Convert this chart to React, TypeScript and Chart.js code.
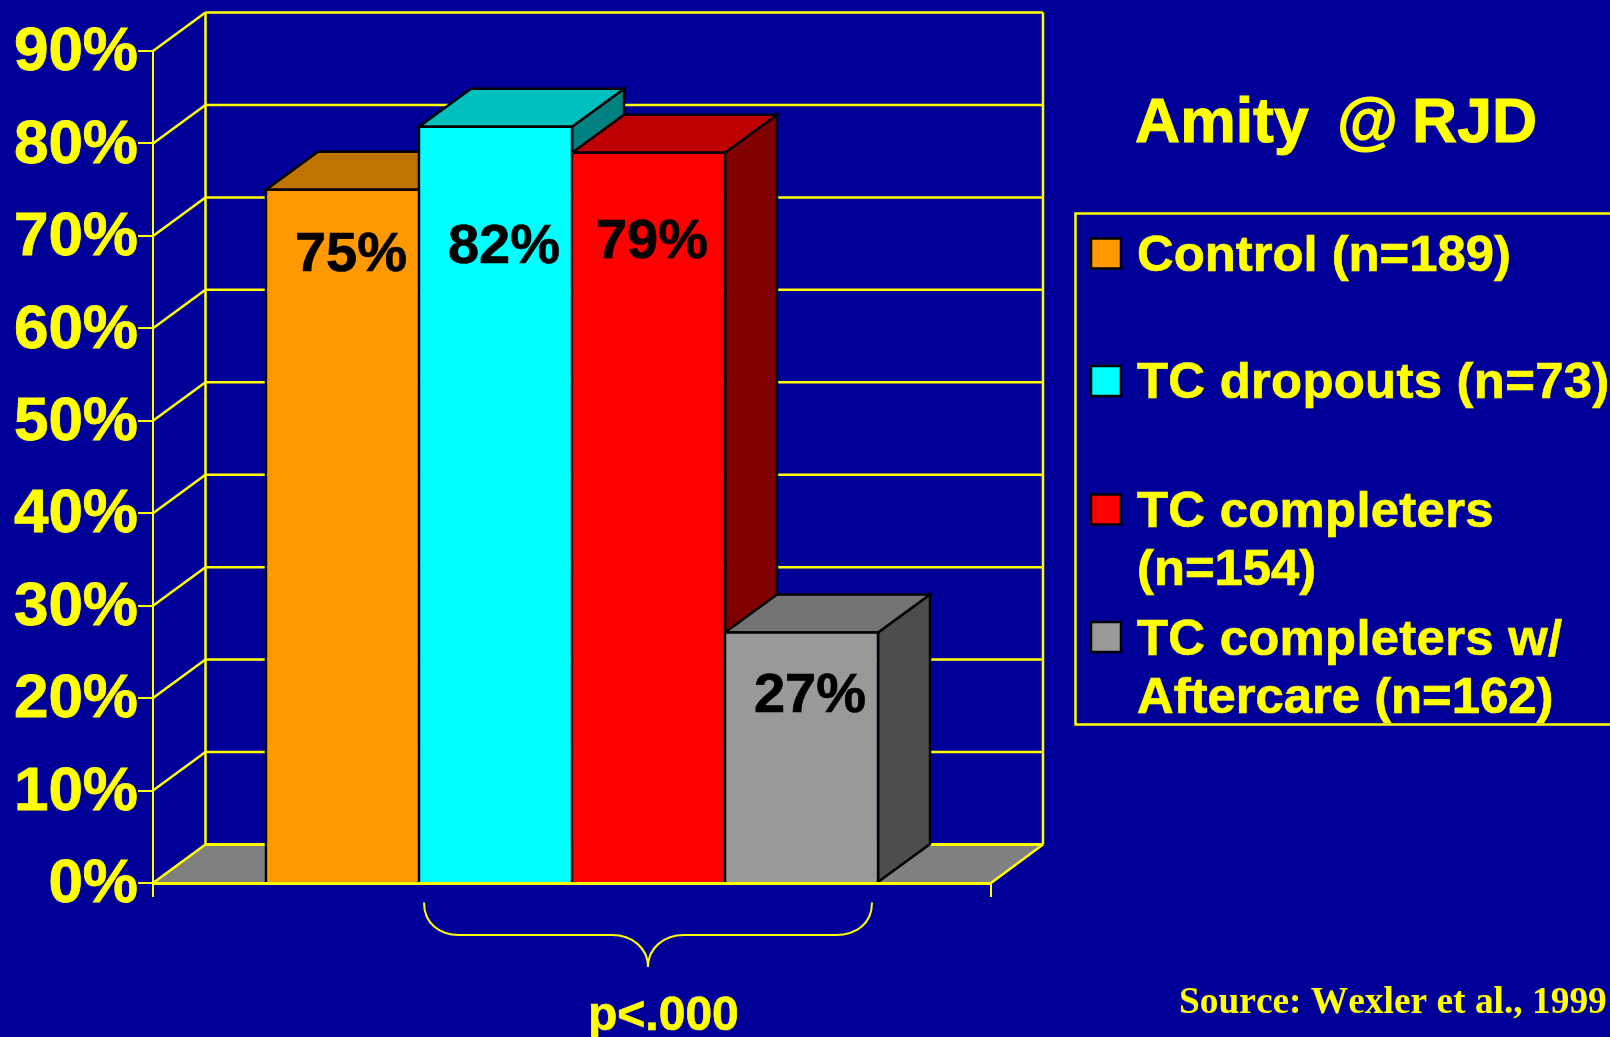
import React, { useEffect, useRef } from "react";
import { Chart, registerables } from "chart.js";

Chart.register(...registerables);

const categories = ["Amity @ RJD"];
const seriesNames = ["Control (n=189)", "TC dropouts (n=73)", "TC completers (n=154)", "TC completers w/ Aftercare (n=162)"];
const seriesValues = [75, 81.8, 79, 27.1];
const tickStep = 10;
const axisMax = 90;

const frontColors = ["#FF9900", "#00FFFF", "#FF0000", "#999999"];
const topColors = ["#BF7300", "#00BFBF", "#BF0000", "#737373"];
const sideColors = ["#804D00", "#008080", "#800000", "#4D4D4D"];

const legendLines = [["Control (n=189)"], ["TC dropouts (n=73)"], ["TC completers", "(n=154)"], ["TC completers w/", "Aftercare (n=162)"]];
const legendSwatchY = [238.5, 366, 494.5, 622];
const legendBaselineY = [271, 398, 527, 655];
const labelOffsets = [[8.5, 61], [8.5, 116], [3.5, 85], [8.5, 60]];

const BG = "#000099";
const YEL = "#FFFF00";
const SANS = '"Liberation Sans", Arial, sans-serif';
const DEPTH_X = 52.5;
const DEPTH_Y = 38.5;
const BAR_DX = 52;
const BAR_DY = 38;

const poly = (ctx: CanvasRenderingContext2D, pts: number[][]) => {
  ctx.beginPath();
  pts.forEach((p, i) => (i ? ctx.lineTo(p[0], p[1]) : ctx.moveTo(p[0], p[1])));
  ctx.closePath();
};
const seg = (ctx: CanvasRenderingContext2D, x1: number, y1: number, x2: number, y2: number) => {
  ctx.beginPath();
  ctx.moveTo(x1, y1);
  ctx.lineTo(x2, y2);
  ctx.stroke();
};
const heavyText = (ctx: CanvasRenderingContext2D, t: string, x: number, y: number, w = 0.7) => {
  ctx.lineWidth = w;
  ctx.strokeStyle = ctx.fillStyle as string;
  ctx.strokeText(t, x, y);
  ctx.fillText(t, x, y);
};

const box3d = {
  id: "box3d",
  beforeDatasetsDraw(chart: any) {
    const { ctx, chartArea: a, scales } = chart;
    const y = scales.y;
    const y0 = y.getPixelForValue(0);
    const bx = a.left + DEPTH_X;
    const rx = a.right + DEPTH_X - 0.5;
    ctx.save();
    // floor
    ctx.fillStyle = "#808080";
    poly(ctx, [[a.left, y0], [bx, y0 - DEPTH_Y], [rx, y0 - DEPTH_Y], [a.right, y0]]);
    ctx.fill();
    // walls and grid
    ctx.strokeStyle = YEL;
    ctx.lineWidth = 2.5;
    for (let v = 0; v <= axisMax; v += tickStep) {
      const p = y.getPixelForValue(v);
      seg(ctx, a.left, p, bx, p - DEPTH_Y);
      ctx.lineWidth = v === 0 ? 3 : 2.5;
      seg(ctx, bx, p - DEPTH_Y, rx, p - DEPTH_Y);
      ctx.lineWidth = 2.5;
    }
    const top = y.getPixelForValue(axisMax) - DEPTH_Y;
    seg(ctx, bx, top, bx, y0 - DEPTH_Y);
    seg(ctx, rx, top, rx, y0 - DEPTH_Y);
    seg(ctx, a.right, y0, rx, y0 - DEPTH_Y);
    // bar tops and sides, left to right
    ctx.strokeStyle = "#000000";
    ctx.lineJoin = "miter";
    ctx.lineWidth = 2.5;
    seriesValues.forEach((_, i) => {
      const el = chart.getDatasetMeta(i).data[0];
      const l = el.x - el.width / 2;
      const r = el.x + el.width / 2;
      ctx.fillStyle = sideColors[i];
      poly(ctx, [[r, el.y], [r + BAR_DX, el.y - BAR_DY], [r + BAR_DX, el.base - BAR_DY], [r, el.base]]);
      ctx.fill();
      ctx.stroke();
      ctx.fillStyle = topColors[i];
      poly(ctx, [[l, el.y], [l + BAR_DX, el.y - BAR_DY], [r + BAR_DX, el.y - BAR_DY], [r, el.y]]);
      ctx.fill();
      ctx.stroke();
      poly(ctx, [[l, el.y], [r, el.y], [r, el.base], [l, el.base]]);
      ctx.stroke();
    });
    ctx.restore();
  },
  afterDraw(chart: any) {
    const { ctx } = chart;
    ctx.save();
    ctx.fontKerning = "none";
    // value labels
    ctx.fillStyle = "#000000";
    ctx.font = `bold 56px ${SANS}`;
    ctx.textAlign = "center";
    ctx.textBaseline = "alphabetic";
    seriesValues.forEach((v, i) => {
      const el = chart.getDatasetMeta(i).data[0];
      heavyText(ctx, `${Math.round(v)}%`, el.x + labelOffsets[i][0], el.y + labelOffsets[i][1] + 20);
    });
    // brace
    ctx.strokeStyle = YEL;
    ctx.lineWidth = 2;
    ctx.beginPath();
    ctx.moveTo(424, 902.5);
    ctx.bezierCurveTo(424, 924, 440, 935, 459, 935);
    ctx.lineTo(612, 935);
    ctx.bezierCurveTo(632, 935, 648, 948, 648, 967);
    ctx.bezierCurveTo(648, 948, 664, 935, 684, 935);
    ctx.lineTo(836, 935);
    ctx.bezierCurveTo(856, 935, 872, 924, 872, 902.5);
    ctx.stroke();
    // annotation text
    ctx.fillStyle = YEL;
    ctx.textAlign = "left";
    ctx.font = `bold 48px ${SANS}`;
    heavyText(ctx, "p<.000", 588, 1030);
    ctx.font = `bold 62.5px ${SANS}`;
    (ctx as any).wordSpacing = "-3.2px";
    heavyText(ctx, categories[0].replace(" @", "  @"), 1135, 142, 1);
    (ctx as any).wordSpacing = "0px";
    ctx.font = 'bold 37.4px "Liberation Serif", "Times New Roman", serif';
    ctx.fillText("Source: Wexler et al., 1999", 1179, 1012.5);
    // legend
    ctx.strokeStyle = YEL;
    ctx.lineWidth = 2.5;
    ctx.strokeRect(1075.5, 213.5, 560, 511);
    legendLines.forEach((lines, i) => {
      ctx.font = `bold 50.8px ${SANS}`;
      ctx.fillStyle = frontColors[i];
      ctx.strokeStyle = "#000000";
      ctx.lineWidth = 2.5;
      ctx.fillRect(1091, legendSwatchY[i], 30, 30);
      ctx.strokeRect(1091, legendSwatchY[i], 30, 30);
      ctx.fillStyle = YEL;
      lines.forEach((t, j) => {
        (ctx as any).letterSpacing = t.startsWith("TC") ? "0.3px" : "0px";
        heavyText(ctx, t, 1137, legendBaselineY[i] + j * 57.5);
      });
    });
    ctx.restore();
  },
};

export default function App() {
  const ref = useRef<HTMLCanvasElement>(null);
  useEffect(() => {
    document.body.style.margin = "0";
    document.body.style.background = BG;
    document.body.style.overflow = "hidden";
    const chart = new Chart(ref.current as HTMLCanvasElement, {
      type: "bar",
      plugins: [box3d],
      data: {
        labels: categories,
        datasets: seriesValues.map((v, i) => ({
          label: seriesNames[i],
          data: [v],
          backgroundColor: frontColors[i],
          borderColor: "#000000",
          borderWidth: 1.25,
          borderSkipped: "bottom",
          categoryPercentage: 612 / 838,
          barPercentage: 1,
        })),
      },
      options: {
        responsive: false,
        animation: false,
        layout: { padding: { left: 0, top: 51, right: 619, bottom: 0 } },
        plugins: { legend: { display: false }, title: { display: false }, tooltip: { enabled: false } },
        scales: {
          x: {
            afterFit: (s: any) => { s.height = 154; },
            border: { color: YEL, width: 3, z: 1 },
            grid: { color: YEL, lineWidth: 2, tickLength: 14, drawOnChartArea: false },
            ticks: { callback: () => "", maxRotation: 0 },
          },
          y: {
            min: 0,
            max: axisMax,
            afterFit: (s: any) => { s.width = 153; },
            border: { color: YEL, width: 2 },
            grid: { color: YEL, lineWidth: 2, tickLength: 15, drawOnChartArea: false },
            ticks: {
              stepSize: tickStep,
              padding: 0,
              color: YEL,
              textStrokeColor: YEL,
              textStrokeWidth: 0.8,
              font: { family: SANS, size: 62, weight: "bold", lineHeight: 0.07 },
              callback: (v: any) => ["", `${v}%`],
            },
          },
        },
      },
    } as any);
    return () => chart.destroy();
  }, []);
  return (
    <div style={{ width: 1610, height: 1037, background: BG }}>
      <canvas ref={ref} width={1610} height={1037} style={{ display: "block" }} />
    </div>
  );
}
